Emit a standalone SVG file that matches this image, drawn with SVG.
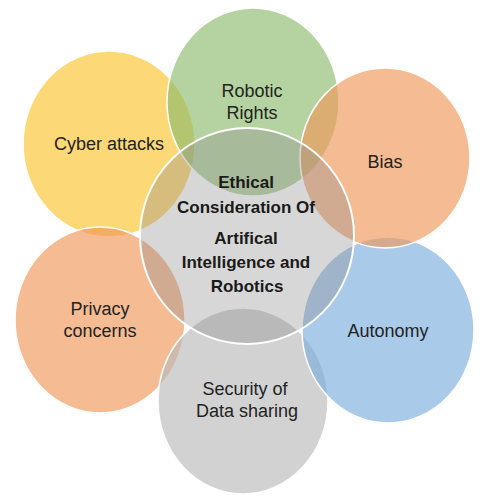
<svg xmlns="http://www.w3.org/2000/svg" width="500" height="500" viewBox="0 0 500 500">
  <style>
    .c { stroke: #ffffff; stroke-width: 1.5; fill-opacity: 0.65; }
    .t { font-family: "Liberation Sans", Arial, sans-serif; font-size: 18px; fill: #222222; text-anchor: middle; }
    .b { font-family: "Liberation Sans", Arial, sans-serif; font-size: 17px; font-weight: bold; fill: #1a1a1a; text-anchor: middle; }
  </style>
  <rect width="500" height="500" fill="#ffffff"/>
  <g id="cyber">
    <ellipse class="c" cx="109" cy="144" rx="86" ry="93" fill="#FCC32C"/>
  </g>
  <g id="rights">
    <ellipse class="c" cx="253" cy="102" rx="86" ry="94" fill="#8DBB6D"/>
  </g>
  <g id="privacy">
    <ellipse class="c" cx="100" cy="320" rx="85" ry="93" fill="#F0985A"/>
  </g>
  <g id="security">
    <ellipse class="c" cx="243" cy="401" rx="85" ry="93" fill="#BABABA"/>
  </g>
  <g id="autonomy">
    <ellipse class="c" cx="388" cy="330" rx="86" ry="93" fill="#7CADDF"/>
  </g>
  <g id="bias">
    <ellipse class="c" cx="385" cy="158" rx="85" ry="90" fill="#F0985A"/>
  </g>
  <g id="center">
    <ellipse cx="247" cy="236" rx="107" ry="108" fill="#8c8c8c" fill-opacity="0.35" stroke="#ffffff" stroke-width="2"/>
  </g>
  <g id="connectors"></g>
  <g id="labels">
    <text class="t" x="109" y="150">Cyber attacks</text>
    <text class="t" x="252" y="97">Robotic</text>
    <text class="t" x="252" y="119">Rights</text>
    <text class="t" x="385" y="168">Bias</text>
    <text class="t" x="388" y="337">Autonomy</text>
    <text class="t" x="245" y="395">Security of</text>
    <text class="t" x="247" y="417">Data sharing</text>
    <text class="t" x="100" y="315">Privacy</text>
    <text class="t" x="100" y="337">concerns</text>
    <text class="b" x="246" y="188">Ethical</text>
    <text class="b" x="246" y="213">Consideration Of</text>
    <text class="b" x="246" y="244">Artifical</text>
    <text class="b" x="246" y="268">Intelligence and</text>
    <text class="b" x="247" y="292">Robotics</text>
  </g>
</svg>
